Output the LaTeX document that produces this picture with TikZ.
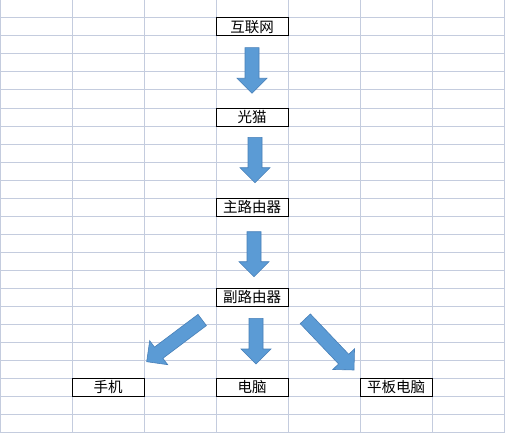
\documentclass[tikz,border=0pt]{standalone}
\usepackage{fontspec}
\newfontfamily\cjk{Noto Sans CJK SC}
\usetikzlibrary{calc}
\definecolor{gridc}{RGB}{196,204,222}
\definecolor{arrfill}{RGB}{91,155,213}
\definecolor{arrdraw}{RGB}{72,128,184}
\tikzset{
  box/.style={draw=black, line width=1pt, fill=white, minimum width=72pt, minimum height=18pt, inner sep=0pt, font=\cjk\fontsize{14.5}{16}\selectfont},
  gridline/.style={draw=gridc, line width=1pt},
  blockarr/.style={fill=arrfill, draw=arrdraw, line width=0.6pt, line join=miter}
}
\newcommand\blkarrow[3]{% tail, tip, name
  \coordinate (#3b) at ($(#2)!15pt!(#1)$);
  \filldraw[blockarr] ($(#1)!7pt!90:(#2)$) -- ($(#3b)!7pt!90:(#2)$) -- ($(#3b)!15pt!90:(#2)$) -- (#2)
    -- ($(#3b)!15pt!-90:(#2)$) -- ($(#3b)!7pt!-90:(#2)$) -- ($(#1)!7pt!-90:(#2)$) -- cycle;
}
\begin{document}
\begin{tikzpicture}[x=1pt,y=-1pt]
\useasboundingbox (0,0) rectangle (505,433);
\fill[white] (0,0) rectangle (505,433);
\foreach \i in {0,72,...,504} \draw[gridline] (\i,0) -- (\i,433);
\foreach \j in {0,18,...,432} \draw[gridline] (0,\j) -- (505,\j);

\node[box] (inet) at (252,27) {互联网};
\node[box] (modem) at (252,117) {光猫};
\node[box] (main) at (252,207) {主路由器};
\node[box] (sub) at (252,297) {副路由器};
\node[box] (phone) at (108,387) {手机};
\node[box] (pc) at (252,387) {电脑};
\node[box] (tablet) at (396,387) {平板电脑};

\coordinate (t1) at (252,47.7);  \coordinate (p1) at (252,93.3);
\coordinate (t2) at (255,137.3); \coordinate (p2) at (255,182.7);
\coordinate (t3) at (254,231.7); \coordinate (p3) at (254,276.7);
\coordinate (t4) at (256,318.3); \coordinate (p4) at (256,364);
\coordinate (t5) at (202.2,320); \coordinate (p5) at (146.7,361.7);
\coordinate (t6) at (305.3,318.8); \coordinate (p6) at (354,370);

\blkarrow{t1}{p1}{a1}
\blkarrow{t2}{p2}{a2}
\blkarrow{t3}{p3}{a3}
\blkarrow{t4}{p4}{a4}
\blkarrow{t5}{p5}{a5}
\blkarrow{t6}{p6}{a6}
\end{tikzpicture}
\end{document}
